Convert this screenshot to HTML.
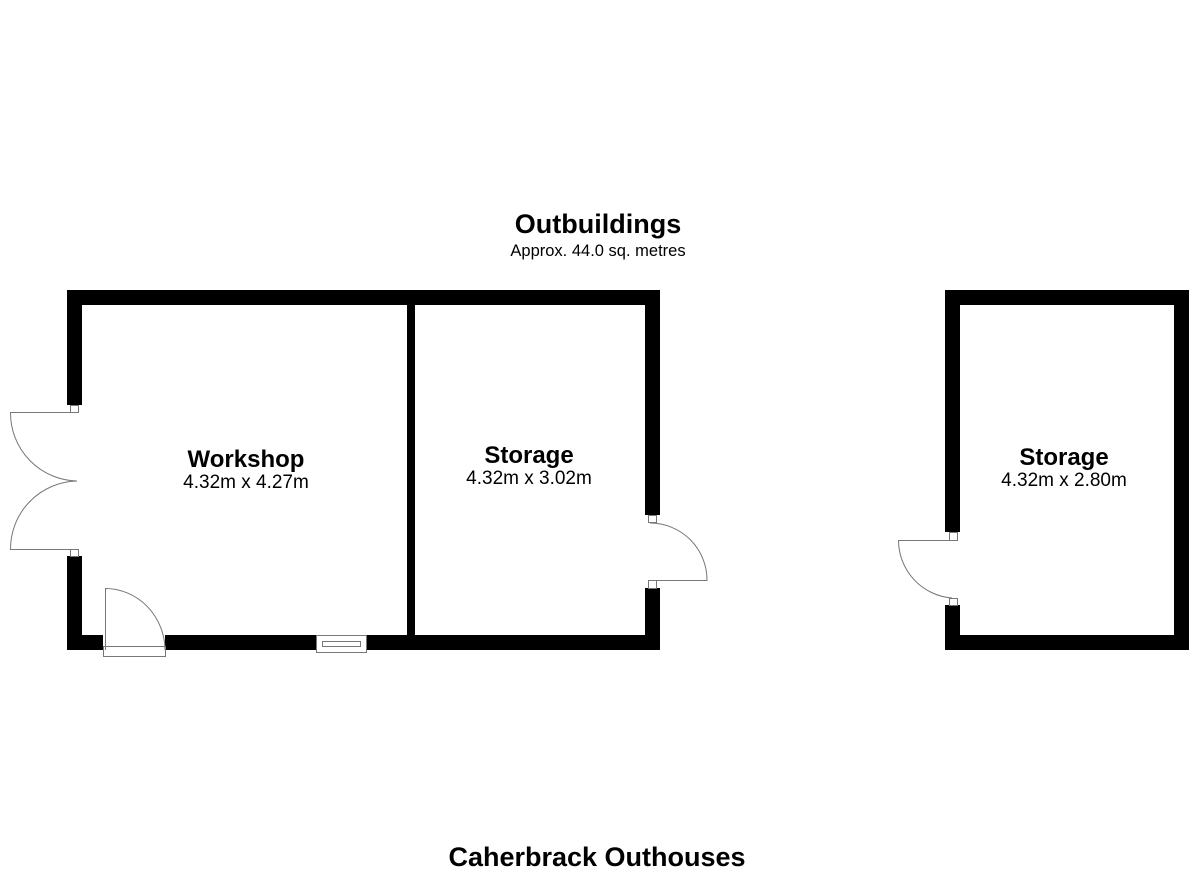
<!DOCTYPE html>
<html><head><meta charset="utf-8"><style>
html,body{margin:0;padding:0;background:#fff;}
svg{display:block;}
text{font-family:"Liberation Sans",Arial,sans-serif;fill:#000;}
</style></head><body>
<svg width="1200" height="872" viewBox="0 0 1200 872" xmlns="http://www.w3.org/2000/svg">
<rect width="1200" height="872" fill="#fff"/>
<text x="598" y="233" text-anchor="middle" font-size="27" font-weight="bold">Outbuildings</text>
<text x="598" y="256" text-anchor="middle" font-size="16.5">Approx. 44.0 sq. metres</text>

<g fill="#000">
<rect x="67" y="290" width="593" height="15"/>
<rect x="67" y="290" width="15" height="115"/>
<rect x="67" y="556" width="15" height="94"/>
<rect x="67" y="635" width="36" height="15"/>
<rect x="165" y="635" width="151" height="15"/>
<rect x="366" y="635" width="294" height="15"/>
<rect x="407" y="290" width="8" height="360"/>
<rect x="645" y="290" width="15" height="225"/>
<rect x="645" y="588" width="15" height="62"/>
</g>
<g fill="none" stroke="#777" stroke-width="1">
<rect x="70.5" y="405.5" width="8" height="7"/>
<rect x="70.5" y="549.5" width="8" height="7"/>
<rect x="648.5" y="515.5" width="8" height="7"/>
<rect x="648.5" y="580.5" width="8" height="8"/>
<path d="M77 412.5 H10.5 A68 68 0 0 0 77 481"/>
<path d="M77 549.5 H10.5 A68 68 0 0 1 77 481"/>
<path d="M105.5 650 V588.5 A60 62 0 0 1 165 650"/>
<rect x="103.5" y="646.5" width="62" height="10"/>
<rect x="316.5" y="635.5" width="50" height="17" fill="#fff"/>
<rect x="322.5" y="641.5" width="38" height="5"/>
<path d="M650 523 A57 57 0 0 1 707 580.5 H650"/>
</g>

<g fill="#000">
<rect x="945" y="290" width="244" height="15"/>
<rect x="945" y="290" width="15" height="242"/>
<rect x="945" y="605" width="15" height="45"/>
<rect x="945" y="635" width="244" height="15"/>
<rect x="1174" y="290" width="15" height="360"/>
</g>
<g fill="none" stroke="#777" stroke-width="1">
<rect x="949.5" y="532.5" width="8" height="8"/>
<rect x="949.5" y="598.5" width="8" height="7"/>
<path d="M958 540.5 H898.5 A58 58 0 0 0 952 598"/>
</g>

<text x="246" y="467" text-anchor="middle" font-size="24" font-weight="bold">Workshop</text>
<text x="246" y="488" text-anchor="middle" font-size="19">4.32m x 4.27m</text>
<text x="529" y="463" text-anchor="middle" font-size="24" font-weight="bold">Storage</text>
<text x="529" y="484" text-anchor="middle" font-size="19">4.32m x 3.02m</text>
<text x="1064" y="465" text-anchor="middle" font-size="24" font-weight="bold">Storage</text>
<text x="1064" y="486" text-anchor="middle" font-size="19">4.32m x 2.80m</text>

<text x="597" y="866" text-anchor="middle" font-size="27" font-weight="bold">Caherbrack Outhouses</text>
</svg>
</body></html>
